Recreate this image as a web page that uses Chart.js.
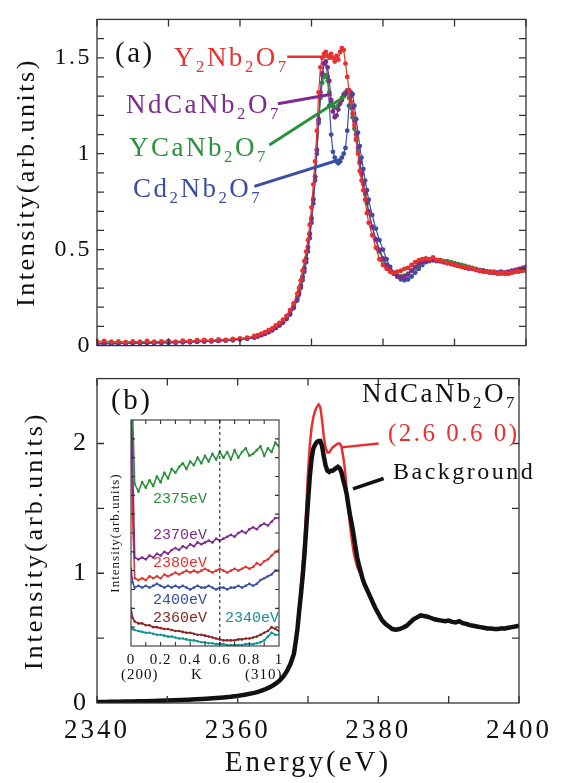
<!DOCTYPE html>
<html>
<head>
<meta charset="utf-8">
<script src="https://cdn.jsdelivr.net/npm/chart.js@4.4.1/dist/chart.umd.min.js"></script>
<style>
body { margin: 0; background: #fff; }
#fig { position: relative; width: 564px; height: 783px; overflow: hidden; background: #fff; }
.box { position: absolute; }
.lbl { position: absolute; white-space: nowrap; font-family: "Liberation Serif", serif; line-height: 1; letter-spacing: 2.5px; }
.lbl sub { font-size: 0.62em; vertical-align: -0.35em; line-height: 0; }
.mono { font-family: "Liberation Mono", monospace; font-size: 15px; letter-spacing: 0; }
.small { font-size: 15px; letter-spacing: 1px; color: #111; }
</style>
</head>
<body>
<div id="fig">
  <div class="box" style="left:0;top:0;width:564px;height:365px"><canvas id="chartA"></canvas></div>
  <div class="box" style="left:0;top:355px;width:564px;height:428px"><canvas id="chartB"></canvas></div>
  <div class="box" style="left:100px;top:400px;width:200px;height:290px"><canvas id="inset"></canvas></div>

  <div class="lbl" style="left:115px;top:38px;font-size:29px;color:#111">(a)</div>
  <div class="lbl" style="left:174px;top:44px;font-size:27px;color:#e8312f">Y<sub>2</sub>Nb<sub>2</sub>O<sub>7</sub></div>
  <div class="lbl" style="left:126px;top:91px;font-size:27px;color:#7e2a8e">NdCaNb<sub>2</sub>O<sub>7</sub></div>
  <div class="lbl" style="left:129px;top:134px;font-size:27px;color:#2b8f3c">YCaNb<sub>2</sub>O<sub>7</sub></div>
  <div class="lbl" style="left:133px;top:175px;font-size:27px;color:#3a4ea3">Cd<sub>2</sub>Nb<sub>2</sub>O<sub>7</sub></div>

  <div class="lbl" style="left:111px;top:385px;font-size:29px;color:#111">(b)</div>
  <div class="lbl" style="left:362px;top:380px;font-size:27px;color:#111">NdCaNb<sub>2</sub>O<sub>7</sub></div>
  <div class="lbl" style="left:388px;top:420px;font-size:25px;color:#e8312f">(2.6 0.6 0)</div>
  <div class="lbl" style="left:393px;top:459px;font-size:24px;color:#111">Background</div>

  <div class="lbl mono" style="left:153px;top:492px;color:#2b8f3c">2375eV</div>
  <div class="lbl mono" style="left:153px;top:528px;color:#7e2a8e">2370eV</div>
  <div class="lbl mono" style="left:153px;top:556px;color:#e8312f">2380eV</div>
  <div class="lbl mono" style="left:153px;top:593px;color:#3a4ea3">2400eV</div>
  <div class="lbl mono" style="left:153px;top:611px;color:#8b2323">2360eV</div>
  <div class="lbl mono" style="left:225px;top:611px;color:#13938f">2340eV</div>

  <div class="lbl small" style="left:121px;top:667px">(200)</div>
  <div class="lbl small" style="left:191px;top:667px">K</div>
  <div class="lbl small" style="left:245px;top:667px">(310)</div>
</div>

<script>
// photon energy grid (eV), shared by panels (a) and (b)
const energies = [
  2340, 2341, 2342, 2343, 2344, 2345, 2346, 2347, 2348, 2349, 2350, 2351, 2352, 2353, 2354, 2355, 2356, 2357, 2358, 2359, 2360, 2361, 2362,
  2362.5, 2363, 2363.5, 2364, 2364.5, 2365, 2365.5, 2366, 2366.5, 2367, 2367.5, 2368,
  2368.25, 2368.5, 2368.75, 2369, 2369.25, 2369.5, 2369.75, 2370, 2370.25, 2370.5, 2370.75, 2371, 2371.25, 2371.5, 2371.75, 2372,
  2372.25, 2372.5, 2372.75, 2373, 2373.25, 2373.5, 2373.75, 2374, 2374.25, 2374.5, 2374.75, 2375, 2375.25, 2375.5, 2375.75, 2376,
  2376.25, 2376.5, 2376.75, 2377, 2377.25, 2377.5, 2377.75, 2378,
  2378.5, 2379, 2379.5, 2380, 2380.5, 2381, 2381.5, 2382, 2382.5, 2383, 2383.5, 2384, 2384.5, 2385, 2385.5, 2386, 2386.5, 2387, 2387.5, 2388,
  2388.5, 2389, 2389.5, 2390, 2390.5, 2391, 2391.5, 2392, 2392.5, 2393, 2393.5, 2394, 2394.5, 2395, 2395.5, 2396, 2396.5, 2397, 2397.5, 2398,
  2398.5, 2399, 2399.5, 2400
];

// panel (a)
const y2nb2o7 = [
  .02, .025, .02, .022, .018, .022, .02, .024, .02, .022, .025, .02, .026, .024, .028, .03, .028, .032, .03, .035, .038, .042, .05,
  .055, .062, .07, .08, .09, .105, .118, .135, .155, .185, .22, .27,
  .30, .34, .39, .44, .49, .55, .63, .72, .84, .96, 1.12, 1.32, 1.45, 1.50, 1.52, 1.53, 1.51, 1.50, 1.52, 1.50,
  1.48, 1.51, 1.49, 1.53, 1.55, 1.54, 1.47, 1.40, 1.33, 1.27, 1.21, 1.15, 1.08, 1.00, .91, .86, .81, .76, .69, .64,
  .575, .51, .45, .42, .40, .385, .38, .385, .39, .40, .405, .42, .435, .445, .45, .455, .45, .46, .445, .445,
  .44, .43, .43, .42, .415, .41, .41, .405, .40, .395, .39, .385, .385, .38, .385, .375, .38, .38, .375, .38,
  .385, .39, .39, .395
];
const ndcanb2o7 = [
  .01, .012, .01, .012, .011, .013, .012, .014, .013, .015, .016, .015, .018, .018, .02, .022, .022, .025, .026, .028, .032, .036, .042,
  .048, .055, .062, .07, .08, .092, .105, .12, .14, .165, .2, .245,
  .275, .31, .355, .40, .45, .51, .58, .66, .76, .88, 1.02, 1.18, 1.32, 1.42, 1.47, 1.48, 1.45, 1.38, 1.28, 1.22,
  1.19, 1.20, 1.23, 1.26, 1.28, 1.30, 1.31, 1.33, 1.33, 1.30, 1.24, 1.17, 1.10, 1.03, .96, .90, .85, .80, .75, .70,
  .62, .555, .50, .455, .42, .395, .375, .36, .355, .36, .37, .39, .41, .425, .435, .44, .445, .445, .44, .44,
  .435, .43, .425, .42, .415, .41, .405, .40, .40, .395, .39, .39, .385, .385, .38, .38, .385, .38, .385, .39,
  .395, .40, .405, .405
];
const ycanb2o7 = [
  .012, .015, .013, .014, .013, .015, .014, .016, .016, .017, .018, .018, .02, .02, .022, .024, .025, .027, .028, .03, .034, .038, .045,
  .05, .057, .064, .072, .082, .094, .108, .123, .143, .17, .205, .25,
  .28, .315, .36, .405, .455, .515, .585, .665, .765, .88, 1.02, 1.17, 1.29, 1.37, 1.40, 1.41, 1.38, 1.32, 1.27, 1.25,
  1.24, 1.24, 1.25, 1.27, 1.29, 1.31, 1.32, 1.32, 1.29, 1.24, 1.19, 1.13, 1.07, 1.01, .95, .89, .84, .79, .74, .69,
  .615, .55, .49, .445, .41, .39, .375, .365, .36, .365, .375, .39, .405, .42, .43, .44, .445, .45, .445, .445,
  .44, .44, .435, .43, .425, .42, .415, .41, .405, .40, .395, .39, .385, .38, .38, .375, .375, .38, .375, .38,
  .385, .385, .39, .39
];
const cd2nb2o7 = [
  .008, .01, .012, .01, .011, .012, .012, .013, .014, .014, .015, .016, .017, .018, .02, .021, .023, .025, .027, .03, .033, .037, .043,
  .049, .056, .063, .071, .081, .092, .105, .12, .138, .162, .195, .235,
  .265, .30, .34, .385, .435, .49, .56, .64, .74, .86, 1.0, 1.16, 1.30, 1.41, 1.47, 1.48, 1.40, 1.25, 1.10, 1.01,
  .98, .96, .95, .96, .98, 1.00, 1.03, 1.12, 1.25, 1.32, 1.31, 1.25, 1.18, 1.11, 1.04, .98, .92, .86, .81, .76,
  .68, .61, .55, .50, .45, .41, .38, .36, .345, .34, .345, .36, .38, .40, .42, .435, .44, .445, .445, .44,
  .435, .43, .43, .425, .42, .415, .41, .405, .40, .395, .39, .39, .385, .38, .38, .38, .38, .375, .38, .38,
  .39, .395, .40, .41
];

// panel (b): NdCaNb2O7
const peak260 = [
  .006, .009, .008, .011, .01, .013, .012, .015, .015, .018, .018, .022, .022, .026, .027, .032, .033, .039, .042, .05, .054, .064, .073,
  .081, .087, .098, .107, .121, .134, .154, .174, .207, .244, .30, .38,
  .48, .59, .74, .90, 1.06, 1.25, 1.50, 1.78, 1.98, 2.12, 2.20, 2.25, 2.28, 2.30, 2.28, 2.18, 2.05, 1.97, 1.93, 1.93,
  1.95, 1.97, 1.98, 1.99, 2.0, 2.0, 1.98, 1.90, 1.80, 1.64, 1.48, 1.36, 1.25, 1.16, 1.10, 1.05, 1.02, .99, .95, .92,
  .87, .80, .745, .69, .645, .605, .59, .565, .57, .565, .585, .59, .625, .64, .665, .67, .675, .66, .66, .64,
  .645, .63, .635, .64, .62, .625, .635, .61, .615, .595, .60, .585, .59, .575, .58, .57, .575, .565, .58, .57,
  .585, .58, .595, .59
];
const background = [
  .007, .008, .009, .01, .011, .012, .013, .014, .016, .017, .019, .021, .023, .025, .028, .031, .034, .038, .043, .048, .055, .063, .074,
  .08, .088, .097, .108, .12, .135, .152, .175, .205, .245, .30, .38,
  .47, .57, .71, .84, .98, 1.15, 1.35, 1.55, 1.74, 1.88, 1.96, 1.99, 2.01, 2.02, 2.02, 1.98, 1.90, 1.83, 1.79, 1.78,
  1.79, 1.79, 1.80, 1.81, 1.82, 1.81, 1.78, 1.72, 1.67, 1.61, 1.52, 1.44, 1.37, 1.29, 1.20, 1.12, 1.06, 1.01, .96, .92,
  .86, .80, .74, .69, .64, .61, .59, .57, .565, .57, .58, .595, .62, .645, .66, .675, .67, .665, .655, .645,
  .64, .635, .63, .635, .625, .62, .63, .615, .61, .60, .595, .59, .585, .58, .575, .575, .57, .57, .575, .575,
  .58, .585, .59, .595
];

// inset: intensity along K from (200) to (310)
const kValues = [0, .01, .025, .05, .075, .1, .125, .15, .175, .2, .225, .25, .275, .3, .325, .35, .375, .4, .425, .45, .475, .5,
  .525, .55, .575, .6, .625, .65, .675, .7, .725, .75, .775, .8, .825, .85, .875, .9, .925, .95, .975, 1];
const k2375 = [1.6, 1.25, .86, .82, .87, .84, .88, .85, .90, .87, .92, .89, .94, .92, .95, .97, .94, .98, .96, 1.0, .97, 1.01,
  .98, 1.02, .99, 1.03, 1.0, 1.03, .99, 1.04, 1.0, 1.03, 1.05, 1.01, 1.02, 1.04, 1.06, 1.01, 1.05, 1.03, 1.08, 1.06];
const k2370 = [1.6, 1.0, .47, .46, .47, .46, .48, .47, .49, .48, .50, .49, .51, .52, .51, .53, .52, .54, .53, .55, .54, .55,
  .56, .55, .57, .56, .57, .58, .59, .58, .60, .61, .60, .62, .63, .62, .64, .65, .64, .66, .68, .68];
const k2380 = [1.6, .7, .36, .35, .36, .35, .37, .36, .37, .36, .38, .37, .38, .39, .38, .39, .40, .39, .40, .39, .40, .41,
  .40, .39, .40, .41, .40, .39, .40, .41, .40, .41, .42, .41, .42, .44, .43, .45, .46, .48, .50, .51];
const k2400 = [.41, .34, .31, .32, .31, .32, .31, .32, .33, .32, .31, .32, .31, .32, .31, .32, .31, .30, .31, .32, .31, .31,
  .32, .31, .30, .31, .31, .30, .31, .31, .32, .31, .32, .33, .32, .33, .35, .36, .37, .38, .40, .40];
const k2360 = [.20, .15, .13, .12, .12, .11, .11, .10, .10, .095, .09, .09, .085, .08, .08, .075, .07, .07, .065, .06, .06, .055,
  .05, .045, .04, .035, .03, .03, .03, .03, .035, .035, .04, .04, .045, .05, .06, .07, .08, .10, .09, .08];
const k2340 = [.10, .09, .085, .08, .075, .07, .07, .065, .06, .06, .055, .05, .05, .045, .04, .04, .035, .03, .03, .025, .02, .02,
  .015, .015, .01, .01, .01, .005, .005, .005, .005, .005, .01, .01, .01, .015, .02, .03, .05, .07, .06, .06];

// ticks
const eTicks = [2340, 2350, 2360, 2370, 2380, 2390, 2400];
const eLabels = [2340, 2360, 2380, 2400];
const aMinor = [0.1, 0.2, 0.3, 0.4, 0.5, 0.6, 0.7, 0.8, 0.9, 1.0, 1.1, 1.2, 1.3, 1.4, 1.5, 1.6];
const aLabels = [0, 0.5, 1, 1.5];
const bMinor = [0.5, 1, 1.5, 2];
const bLabels = [0, 1, 2];
const kTicks = [0.1, 0.2, 0.3, 0.4, 0.5, 0.6, 0.7, 0.8, 0.9];
const kLabels = [0, 0.2, 0.4, 0.6, 0.8, 1];
const insetMinor = [0.1, 0.2, 0.3, 0.4, 0.5, 0.6, 0.7, 0.8, 0.9, 1.0, 1.1];

const RED = '#e8312f', PURPLE = '#7e2a8e', GREEN = '#2b8f3c', BLUE = '#3a4ea3', BROWN = '#8b2323', TEAL = '#13938f';
const SERIF = "'Liberation Serif', serif";

Chart.defaults.font.family = SERIF;
Chart.defaults.color = '#111';
Chart.defaults.animation = false;

function pts(xs, ys) {
  return xs.map((x, i) => ({ x: x, y: ys[i] }));
}

// letter spacing for the canvas text, set before fitting and drawing
const spacing = {
  id: 'spacing',
  beforeLayout(c, a, o) { c.ctx.letterSpacing = (o.px || 0) + 'px'; },
  beforeDraw(c, a, o) { c.ctx.letterSpacing = (o.px || 0) + 'px'; }
};

// box frame, inward ticks on all four sides, dashed guides and leader lines
const frame = {
  id: 'frame',
  beforeDatasetsDraw(c, a, o) {
    if (!o.fill) return;
    const ca = c.chartArea;
    c.ctx.save();
    c.ctx.fillStyle = '#fff';
    c.ctx.fillRect(ca.left, ca.top, ca.right - ca.left, ca.bottom - ca.top);
    c.ctx.restore();
  },
  afterDatasetsDraw(c, a, o) {
    const ctx = c.ctx, ca = c.chartArea, x = c.scales.x, y = c.scales.y;
    ctx.save();
    ctx.strokeStyle = '#333';
    ctx.lineWidth = o.width || 1.3;
    ctx.beginPath();
    (o.xTicks || []).forEach(v => {
      const px = x.getPixelForValue(v);
      ctx.moveTo(px, ca.bottom); ctx.lineTo(px, ca.bottom - o.len);
      ctx.moveTo(px, ca.top); ctx.lineTo(px, ca.top + o.len);
    });
    (o.yTicks || []).forEach(v => {
      const py = y.getPixelForValue(v);
      ctx.moveTo(ca.left, py); ctx.lineTo(ca.left + o.len, py);
      ctx.moveTo(ca.right, py); ctx.lineTo(ca.right - o.len, py);
    });
    ctx.stroke();
    ctx.strokeRect(ca.left, ca.top, ca.right - ca.left, ca.bottom - ca.top);
    (o.dashX || []).forEach(v => {
      const px = x.getPixelForValue(v);
      ctx.save();
      ctx.setLineDash([3, 3]);
      ctx.lineWidth = 1;
      ctx.strokeStyle = '#111';
      ctx.beginPath(); ctx.moveTo(px, ca.top); ctx.lineTo(px, ca.bottom); ctx.stroke();
      ctx.restore();
    });
    (o.leaders || []).forEach(l => {
      ctx.strokeStyle = l.color;
      ctx.lineWidth = l.w;
      ctx.beginPath();
      ctx.moveTo(x.getPixelForValue(l.from[0]), y.getPixelForValue(l.from[1]));
      ctx.lineTo(x.getPixelForValue(l.to[0]), y.getPixelForValue(l.to[1]));
      ctx.stroke();
    });
    ctx.restore();
  }
};

function markerSet(label, ys, color) {
  return {
    label: label, data: pts(energies, ys), borderColor: color, backgroundColor: color,
    borderWidth: 1.2, pointRadius: 2.4, pointBorderWidth: 0, pointBackgroundColor: color, tension: 0
  };
}

new Chart(document.getElementById('chartA'), {
  type: 'line',
  data: {
    datasets: [
      markerSet('Y2Nb2O7', y2nb2o7, RED),
      markerSet('NdCaNb2O7', ndcanb2o7, PURPLE),
      markerSet('YCaNb2O7', ycanb2o7, GREEN),
      markerSet('Cd2Nb2O7', cd2nb2o7, BLUE)
    ]
  },
  options: {
    responsive: true,
    maintainAspectRatio: false,
    layout: { padding: { left: 0, right: 38, top: 14, bottom: 0 } },
    plugins: {
      legend: { display: false },
      tooltip: { enabled: false },
      spacing: { px: 2.5 },
      frame: {
        len: 7, xTicks: eTicks, yTicks: aMinor,
        leaders: [
          { from: [2366.6, 1.505], to: [2372.0, 1.505], color: RED, w: 2.5 },
          { from: [2365.3, 1.26], to: [2372.8, 1.31], color: PURPLE, w: 3 },
          { from: [2364.1, 1.045], to: [2374.7, 1.30], color: GREEN, w: 3 },
          { from: [2362.0, 0.83], to: [2374.0, 0.97], color: BLUE, w: 3 }
        ]
      }
    },
    scales: {
      x: {
        type: 'linear', min: 2340, max: 2400,
        ticks: { display: false }, grid: { display: false, drawTicks: false }, border: { display: false },
        afterFit: s => { s.height = 15; }
      },
      y: {
        min: 0, max: 1.7,
        afterBuildTicks: s => { s.ticks = aLabels.map(v => ({ value: v })); },
        ticks: { font: { size: 24 }, padding: 5, callback: v => String(v) },
        grid: { display: false, drawTicks: false }, border: { display: false },
        title: { display: true, text: 'Intensity(arb.units)', font: { size: 26 }, padding: { top: 12, bottom: 0 } },
        afterFit: s => { s.width = 97; }
      }
    }
  },
  plugins: [spacing, frame]
});

new Chart(document.getElementById('chartB'), {
  type: 'line',
  data: {
    datasets: [
      { label: 'Background', data: pts(energies, background), borderColor: '#111', borderWidth: 4.5, pointRadius: 0, tension: 0 },
      { label: '(2.6 0.6 0)', data: pts(energies, peak260), borderColor: RED, borderWidth: 2.5, pointRadius: 0, tension: 0 }
    ]
  },
  options: {
    responsive: true,
    maintainAspectRatio: false,
    layout: { padding: { left: 0, right: 38, top: 10, bottom: 0 } },
    plugins: {
      legend: { display: false },
      tooltip: { enabled: false },
      spacing: { px: 3 },
      frame: {
        len: 7, xTicks: eTicks, yTicks: bMinor,
        leaders: [
          { from: [2374.7, 1.97], to: [2380.05, 2.0], color: RED, w: 2.5 },
          { from: [2376.4, 1.65], to: [2380.75, 1.73], color: '#111', w: 3.5 }
        ]
      }
    },
    scales: {
      x: {
        type: 'linear', min: 2340, max: 2400,
        afterBuildTicks: s => { s.ticks = eLabels.map(v => ({ value: v })); },
        ticks: { font: { size: 27 }, padding: 12, maxRotation: 0, callback: v => String(v) },
        grid: { display: false, drawTicks: false }, border: { display: false },
        title: { display: true, text: 'Energy(eV)', font: { size: 29 }, padding: { top: 0, bottom: 2 } },
        afterFit: s => { s.height = 80; }
      },
      y: {
        min: 0, max: 2.5,
        afterBuildTicks: s => { s.ticks = bLabels.map(v => ({ value: v })); },
        ticks: { font: { size: 26 }, padding: 8, callback: v => String(v) },
        grid: { display: false, drawTicks: false }, border: { display: false },
        title: { display: true, text: 'Intensity(arb.units)', font: { size: 26 }, padding: { top: 20, bottom: 0 } },
        afterFit: s => { s.width = 97; }
      }
    }
  },
  plugins: [spacing, frame]
});

function kSet(label, ys, color) {
  return {
    label: label, data: pts(kValues, ys), borderColor: color, backgroundColor: color,
    borderWidth: 1.6, pointRadius: 1.3, pointBorderWidth: 0, pointBackgroundColor: color, tension: 0
  };
}

new Chart(document.getElementById('inset'), {
  type: 'line',
  data: {
    datasets: [
      kSet('2340eV', k2340, TEAL),
      kSet('2360eV', k2360, BROWN),
      kSet('2375eV', k2375, GREEN),
      kSet('2370eV', k2370, PURPLE),
      kSet('2380eV', k2380, RED),
      kSet('2400eV', k2400, BLUE)
    ]
  },
  options: {
    responsive: true,
    maintainAspectRatio: false,
    layout: { padding: { left: 0, right: 21, top: 20, bottom: 0 } },
    plugins: {
      legend: { display: false },
      tooltip: { enabled: false },
      spacing: { px: 1 },
      frame: { fill: true, len: 4, width: 1.1, xTicks: kTicks, yTicks: insetMinor, dashX: [0.6] }
    },
    scales: {
      x: {
        type: 'linear', min: 0, max: 1,
        afterBuildTicks: s => { s.ticks = kLabels.map(v => ({ value: v })); },
        ticks: { font: { size: 15 }, padding: 5, maxRotation: 0, autoSkip: false, callback: v => String(v) },
        grid: { display: false, drawTicks: false }, border: { display: false },
        afterFit: s => { s.height = 44; }
      },
      y: {
        min: 0, max: 1.2,
        ticks: { display: false },
        grid: { display: false, drawTicks: false }, border: { display: false },
        title: { display: true, text: 'Intensity(arb.units)', font: { size: 13 }, padding: { top: 8, bottom: 0 } },
        afterFit: s => { s.width = 31; }
      }
    }
  },
  plugins: [spacing, frame]
});
</script>
</body>
</html>
